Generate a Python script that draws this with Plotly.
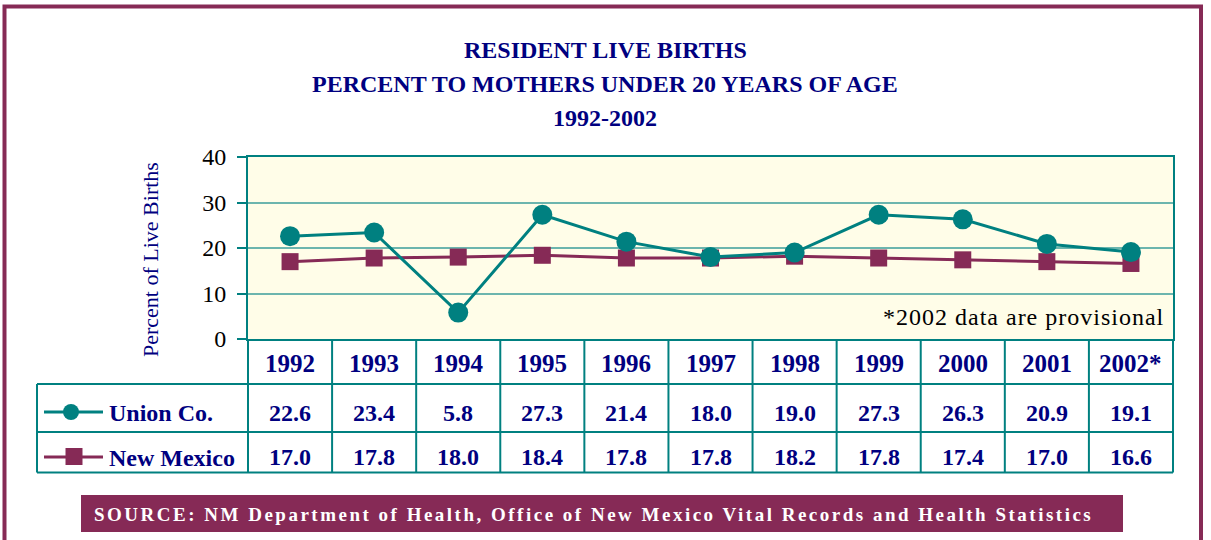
import plotly.graph_objects as go

# ---------------- data ----------------
years = ["1992", "1993", "1994", "1995", "1996", "1997", "1998", "1999", "2000", "2001", "2002*"]
union_co = [22.6, 23.4, 5.8, 27.3, 21.4, 18.0, 19.0, 27.3, 26.3, 20.9, 19.1]
new_mexico = [17.0, 17.8, 18.0, 18.4, 17.8, 17.8, 18.2, 17.8, 17.4, 17.0, 16.6]
series_names = ["Union Co.", "New Mexico"]
y_ticks = [0, 10, 20, 30, 40]
title_lines = ["RESIDENT LIVE BIRTHS",
               "PERCENT TO MOTHERS UNDER 20 YEARS OF AGE",
               "1992-2002"]
y_title = "Percent of Live Births"
footnote = "*2002 data are provisional"
source_text = "SOURCE: NM Department of Health, Office of New Mexico Vital Records and Health Statistics"

# ---------------- styles ----------------
NAVY = "#000080"
TEAL = "#008080"
GRID = "#6cb5ae"
MAROON = "#862a56"
PLOT_BG = "#fffde8"
SERIF = "Liberation Serif, Times New Roman, serif"

W_FIG, H_FIG = 1211, 540
L, R, T, B = 248, 38, 157, 201
PW = W_FIG - L - R
PH = H_FIG - T - B


def fx(X):
    return (X - L) / PW


def fy(Y):
    return (T + PH - Y) / PH


n = len(years)
xs = list(range(n))

fig = go.Figure()
fig.add_trace(go.Scatter(
    x=xs, y=new_mexico, name=series_names[1], mode="lines+markers",
    line=dict(color=MAROON, width=3),
    marker=dict(symbol="square", size=17, color=MAROON),
    cliponaxis=False, showlegend=False))
fig.add_trace(go.Scatter(
    x=xs, y=union_co, name=series_names[0], mode="lines+markers",
    line=dict(color=TEAL, width=3),
    marker=dict(symbol="circle", size=20, color=TEAL),
    cliponaxis=False, showlegend=False))

shapes = []
annotations = []

# outer border
shapes.append(dict(type="rect", xref="paper", yref="paper",
                   x0=fx(4.5), x1=fx(1201), y0=fy(560), y1=fy(6.5),
                   line=dict(color=MAROON, width=4), layer="below"))

# title
for txt, yc in zip(title_lines, [50, 84, 118]):
    annotations.append(dict(text="<b>%s</b>" % txt, xref="paper", yref="paper",
                            x=fx(605), y=fy(yc), xanchor="center", yanchor="middle",
                            showarrow=False, font=dict(family=SERIF, size=24, color=NAVY)))

# y-axis title
annotations.append(dict(text=y_title, xref="paper", yref="paper", x=fx(150), y=fy(260),
                        textangle=-90, showarrow=False, xanchor="center", yanchor="middle",
                        font=dict(family=SERIF, size=22, color=NAVY)))

# footnote
annotations.append(dict(text='<span style="letter-spacing:1px">%s</span>' % footnote,
                        xref="paper", yref="paper", x=fx(1166), y=fy(317),
                        xanchor="right", yanchor="middle", showarrow=False,
                        font=dict(family=SERIF, size=24, color="black")))

# ---------------- data table ----------------
tbl_top, row1, row2, tbl_bot = 339, 384, 432, 472.5
tbl_left = 37
col_w = PW / n
lw = dict(color=TEAL, width=2)
for yy in [row1, row2, tbl_bot]:
    shapes.append(dict(type="line", xref="paper", yref="paper",
                       x0=fx(tbl_left), x1=fx(L + PW), y0=fy(yy), y1=fy(yy), line=lw))
shapes.append(dict(type="line", xref="paper", yref="paper",
                   x0=fx(tbl_left), x1=fx(tbl_left), y0=fy(row1), y1=fy(tbl_bot), line=lw))
for i in range(n + 1):
    xx = L + i * col_w
    shapes.append(dict(type="line", xref="paper", yref="paper",
                       x0=fx(xx), x1=fx(xx), y0=fy(tbl_top), y1=fy(tbl_bot), line=lw))

for i, yr in enumerate(years):
    annotations.append(dict(text="<b>%s</b>" % yr, xref="x", yref="paper", x=i, y=fy(363),
                            showarrow=False, xanchor="center", yanchor="middle",
                            font=dict(family=SERIF, size=25, color=NAVY)))
for i, v in enumerate(union_co):
    annotations.append(dict(text="<b>%.1f</b>" % v, xref="x", yref="paper", x=i, y=fy(413),
                            showarrow=False, xanchor="center", yanchor="middle",
                            font=dict(family=SERIF, size=24, color=NAVY)))
for i, v in enumerate(new_mexico):
    annotations.append(dict(text="<b>%.1f</b>" % v, xref="x", yref="paper", x=i, y=fy(457),
                            showarrow=False, xanchor="center", yanchor="middle",
                            font=dict(family=SERIF, size=24, color=NAVY)))

# legend keys inside the table
shapes.append(dict(type="line", xref="paper", yref="paper", x0=fx(44), x1=fx(103),
                   y0=fy(412), y1=fy(412), line=dict(color=TEAL, width=3)))
shapes.append(dict(type="circle", xref="paper", yref="paper", x0=fx(63), x1=fx(79),
                   y0=fy(420), y1=fy(404), fillcolor=TEAL, line=dict(width=0)))
shapes.append(dict(type="line", xref="paper", yref="paper", x0=fx(44), x1=fx(103),
                   y0=fy(457), y1=fy(457), line=dict(color=MAROON, width=3)))
shapes.append(dict(type="rect", xref="paper", yref="paper", x0=fx(65.5), x1=fx(82.5),
                   y0=fy(465), y1=fy(448), fillcolor=MAROON, line=dict(width=0)))
for name, yc in zip(series_names, [413, 458]):
    annotations.append(dict(text="<b>%s</b>" % name, xref="paper", yref="paper", x=fx(107), y=fy(yc),
                            showarrow=False, xanchor="left", yanchor="middle",
                            font=dict(family=SERIF, size=24, color=NAVY)))

# source box
shapes.append(dict(type="rect", xref="paper", yref="paper", x0=fx(81), x1=fx(1123),
                   y0=fy(532), y1=fy(495), fillcolor=MAROON, line=dict(width=0)))
annotations.append(dict(text='<b><span style="letter-spacing:2.5px">%s</span></b>' % source_text,
                        xref="paper", yref="paper", x=fx(593), y=fy(514),
                        showarrow=False, xanchor="center", yanchor="middle",
                        font=dict(family=SERIF, size=19, color="white")))

fig.update_layout(
    width=W_FIG, height=H_FIG,
    margin=dict(l=L, r=R, t=T, b=B, pad=0),
    paper_bgcolor="white", plot_bgcolor=PLOT_BG,
    shapes=shapes, annotations=annotations, showlegend=False,
    xaxis=dict(range=[-0.5, n - 0.5], showticklabels=False, showgrid=False, zeroline=False,
               showline=True, linecolor=TEAL, linewidth=2, mirror=True, ticks=""),
    yaxis=dict(range=[0, 40], tickvals=y_ticks, showgrid=True, gridcolor=GRID, gridwidth=1.5,
               zeroline=False, showline=True, linecolor=TEAL, linewidth=2, mirror=True,
               ticks="outside", ticklen=9, tickwidth=2, tickcolor=TEAL,
               ticklabelstandoff=6,
               tickfont=dict(family=SERIF, size=24, color="black")),
)

fig.write_html("out.html", config={"displayModeBar": False},
               post_script="document.body.style.margin='0';")
